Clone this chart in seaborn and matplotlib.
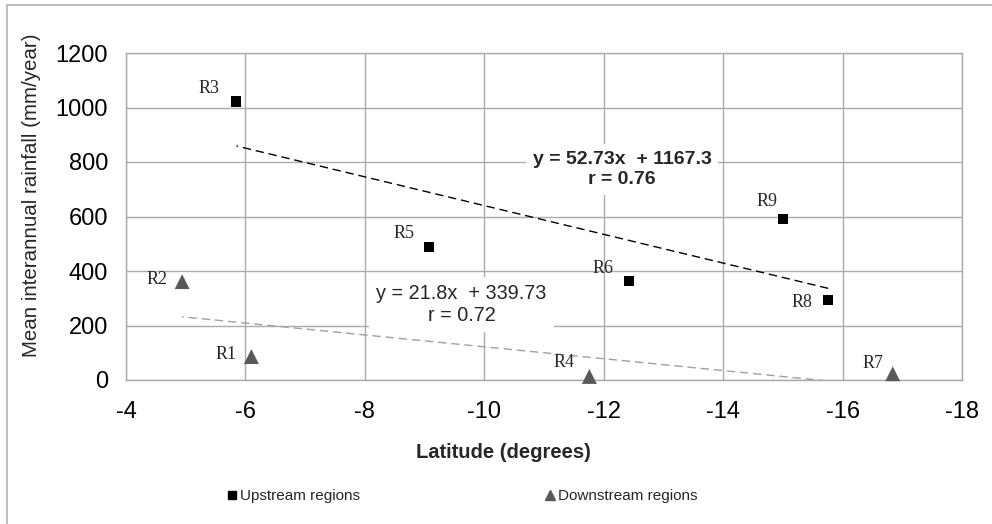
import matplotlib
matplotlib.use("Agg")
import matplotlib.pyplot as plt
import matplotlib.patches as mpatches
from matplotlib.lines import Line2D
import seaborn as sns
import pandas as pd
import numpy as np

# ---- data ----
up_names = ["R3", "R5", "R6", "R9", "R8"]
up_lat = [-5.85, -9.08, -12.43, -15.0, -15.76]
up_rain = [1022, 489, 363, 592, 294]

down_names = ["R2", "R1", "R4", "R7"]
down_lat = [-4.94, -6.1, -11.76, -16.84]
down_rain = [361, 86, 13, 23]

up_slope, up_icpt, up_r = 52.73, 1167.3, 0.76
down_slope, down_icpt, down_r = 21.8, 339.73, 0.72

x_ticks = [-4, -6, -8, -10, -12, -14, -16, -18]
y_ticks = [0, 200, 400, 600, 800, 1000, 1200]

# label offsets in pixels (dx right, dy down)
up_off = [(-27, -13), (-25, -13), (-26, -13), (-16, -17), (-26, 3)]
down_off = [(-25, -2), (-25, -2), (-25, -14), (-20, -10)]

sns.set_theme(style="white")
plt.rcParams['font.family'] = ['Liberation Sans', 'DejaVu Sans']
plt.rcParams['axes.unicode_minus'] = False

W, H = 992, 524
fig = plt.figure(figsize=(W / 100, H / 100), dpi=100)
ax = fig.add_axes([126 / W, 1 - 380 / H, (962 - 126) / W, (380 - 53) / H])

grid_c = "#ababab"
up_df = pd.DataFrame({"lat": up_lat, "rain": up_rain})
down_df = pd.DataFrame({"lat": down_lat, "rain": down_rain})

# trend lines
ux = np.array([min(up_lat), max(up_lat)])
dx = np.array([min(down_lat), max(down_lat)])
ax.plot(ux, up_slope * ux + up_icpt, color="black", lw=1.0, ls=(0, (6, 3.5)), zorder=3)
ax.plot(dx, down_slope * dx + down_icpt, color="#a0a0a0", lw=1.0, ls=(0, (6, 3.5)), zorder=3)

sns.scatterplot(data=up_df, x="lat", y="rain", marker="s", s=52, color="black",
                edgecolor="none", ax=ax, zorder=4, legend=False, clip_on=False)
sns.scatterplot(data=down_df, x="lat", y="rain", marker="^", s=115, color="#595959",
                edgecolor="none", ax=ax, zorder=4, legend=False, clip_on=False)

k = 0.72
for n, x, y, (ox, oy) in zip(up_names, up_lat, up_rain, up_off):
    ax.annotate(n, (x, y), xytext=(ox * k, -oy * k), textcoords="offset points",
                ha="center", va="center", fontsize=13, family="Liberation Serif", zorder=5)
for n, x, y, (ox, oy) in zip(down_names, down_lat, down_rain, down_off):
    ax.annotate(n, (x, y), xytext=(ox * k, -oy * k), textcoords="offset points",
                ha="center", va="center", fontsize=13, family="Liberation Serif", zorder=5)

# equations
fig.text(622 / W, 1 - 169.5 / H, f"y = {up_slope}x  + {up_icpt}\nr = {up_r}",
         ha="center", va="center", fontsize=14, fontweight="bold", linespacing=1.25,
         bbox=dict(facecolor="white", edgecolor="none", pad=5), zorder=2)
fig.text(461.5 / W, 1 - 304.5 / H, f"y = {down_slope}x  + {down_icpt}\nr = {down_r}",
         ha="center", va="center", fontsize=14.3, linespacing=1.25,
         bbox=dict(facecolor="white", edgecolor="none", pad=5), zorder=2)

ax.set_xlim(-4, -18)
ax.set_ylim(0, 1200)
ax.set_xticks(x_ticks)
ax.set_yticks(y_ticks)
ax.set_xticklabels([str(t) for t in x_ticks])
ax.set_yticklabels([str(t) for t in y_ticks])
ax.grid(True, color=grid_c, lw=1.0)
ax.set_axisbelow(True)
for s in ax.spines.values():
    s.set_color(grid_c)
    s.set_linewidth(1.0)
ax.tick_params(axis="both", which="major", labelsize=17, colors="black",
               direction="out", length=6, width=1.0, color=grid_c)
ax.tick_params(axis="x", pad=9)
ax.tick_params(axis="y", pad=7)
ax.set_xlabel("")
ax.set_ylabel("")

fig.text(32 / W, 1 - 195 / H, "Mean interannual rainfall (mm/year)", rotation=90,
         ha="center", va="center", fontsize=14.8)
fig.text(503 / W, 1 - 452 / H, "Latitude (degrees)", ha="center", va="center",
         fontsize=14.5, fontweight="bold")

handles = [Line2D([], [], marker="s", color="black", ls="none", markersize=6),
           Line2D([], [], marker="^", color="#595959", ls="none", markersize=7)]
fig.legend(handles, ["Upstream regions", "Downstream regions"], ncol=2,
           loc="center", bbox_to_anchor=(461 / W, 1 - 496 / H), frameon=False,
           fontsize=11, handletextpad=0.05, columnspacing=11.9, handlelength=1.0)

fig.patches.append(mpatches.Rectangle((7 / W, -0.1), 1.2, 1 - 5.3 / H + 0.1,
                                      transform=fig.transFigure, fill=False,
                                      edgecolor="#b0b0b0", lw=1.2))

fig.savefig("out.png", dpi=100)
